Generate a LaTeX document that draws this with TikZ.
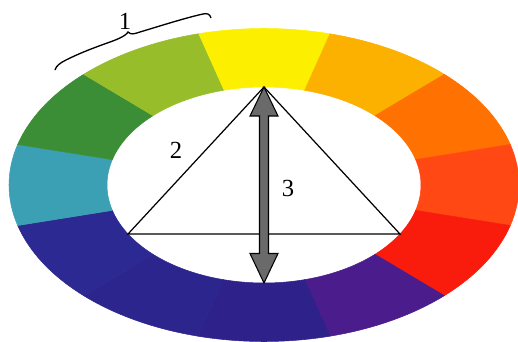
\documentclass[tikz,border=0pt]{standalone}
\usepackage{fontspec}
\setmainfont{Liberation Serif}
\usepackage{tikz}

\definecolor{yellowc}{HTML}{FCEF00}
\definecolor{yorange}{HTML}{FCB100}
\definecolor{orangec}{HTML}{FF7100}
\definecolor{redorange}{HTML}{FF4814}
\definecolor{redc}{HTML}{F91C0C}
\definecolor{purplec}{HTML}{4A1C8C}
\definecolor{bviolet}{HTML}{2E2189}
\definecolor{bluec}{HTML}{2C2A92}
\definecolor{bluecb}{HTML}{2D258E}
\definecolor{tealc}{HTML}{3CA0B5}
\definecolor{greenc}{HTML}{3B8E36}
\definecolor{ygreen}{HTML}{97BD2B}
\definecolor{arrowgray}{HTML}{6A6A6A}

\tikzset{
  numlabel/.style={font=\fontsize{14}{16}\selectfont, inner sep=0pt},
  thinline/.style={line width=0.7pt, black}
}

\begin{document}
\begin{tikzpicture}
    \useasboundingbox (-5.28,-3.14) rectangle (5.08,3.70);

    % Roda de colors
    \foreach \a/\c in {75/yellowc, 45/yorange, 15/orangec, -15/redorange, -45/redc, -75/purplec,
                       -105/bviolet, -135/bluecb, -165/bluec, 165/tealc, 135/greenc, 105/ygreen} {
        \filldraw[fill=\c, draw=\c, line width=0.3pt]
            (\a:5.1cm and 3.13cm) arc[start angle=\a, end angle=\a+30, x radius=5.1cm, y radius=3.13cm]
            -- (\a+30:3.14cm and 1.96cm) arc[start angle=\a+30, end angle=\a, x radius=3.14cm, y radius=1.96cm]
            -- cycle;
    }

    % Triangle
    \coordinate (apex) at (90:3.14cm and 1.96cm);
    \coordinate (baseL) at (210:3.14cm and 1.96cm);
    \coordinate (baseR) at (330:3.14cm and 1.96cm);
    \coordinate (bottom) at (270:3.14cm and 1.96cm);
    \draw[thinline] (apex) -- (baseL) -- (baseR) -- cycle;

    % Fletxa doble
    \filldraw[fill=arrowgray, draw=black, line width=0.6pt]
        (apex) -- ++(0.28,-0.58) -- ++(-0.19,0) -- (0.09,-1.37) -- ++(0.19,0) -- (bottom)
        -- ++(-0.28,0.59) -- ++(0.19,0) -- (-0.09,1.38) -- ++(-0.19,0) -- cycle;

    % Clau
    \draw[line width=0.75pt] (-4.18,2.30) .. controls (-4.16,2.38) and (-4.08,2.44) .. (-3.96,2.50)
        .. controls (-3.48,2.74) and (-3.04,2.86) .. (-2.88,2.94)
        .. controls (-2.80,2.98) and (-2.74,3.02) .. (-2.72,3.06)
        .. controls (-2.66,3.00) and (-2.60,3.02) .. (-2.48,3.06)
        .. controls (-2.08,3.18) and (-1.58,3.34) .. (-1.22,3.42)
        .. controls (-1.14,3.44) and (-1.08,3.42) .. (-1.06,3.34);

    % Numeros
    \node[numlabel] (lbl1) at (-2.78,3.28) {1};
    \node[numlabel] (lbl2) at (-1.76,0.70) {2};
    \node[numlabel] (lbl3) at (0.48,-0.06) {3};
\end{tikzpicture}
\end{document}
